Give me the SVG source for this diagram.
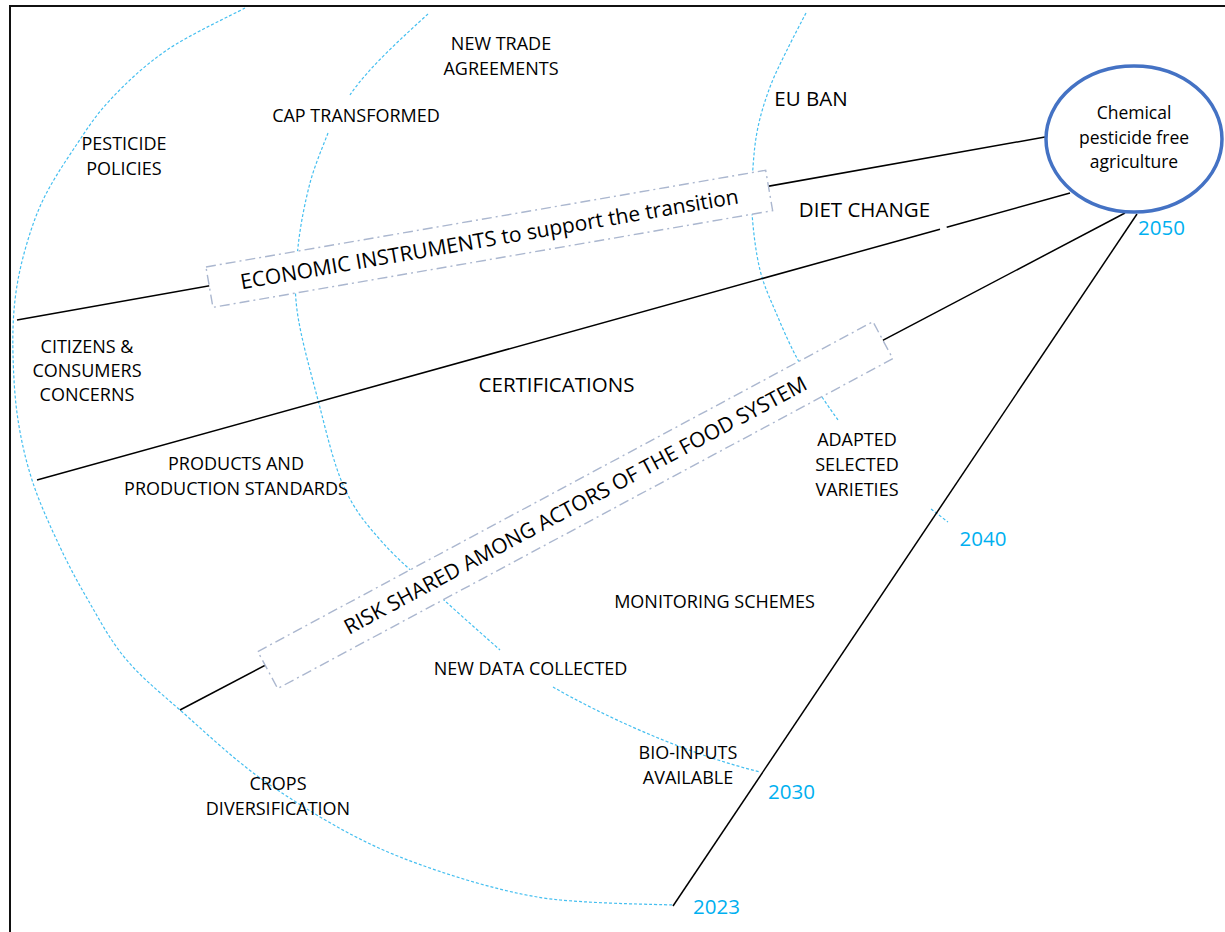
<svg xmlns="http://www.w3.org/2000/svg" width="1225" height="932" viewBox="0 0 1225 932">
<style>
.arc{fill:none;stroke:#45BFF0;stroke-width:1.2;stroke-dasharray:3 2}
.conn{fill:none;stroke:#000;stroke-width:1.5}
.box{fill:#fff;stroke:#ABB7CF;stroke-width:1.4;stroke-dasharray:10 4 2 4}
.lbl{font-family:'Open Sans','Liberation Sans',sans-serif;font-size:18px;fill:#000;text-anchor:middle}
.big{font-size:20.5px}
.boxt{font-size:21px}
.yr{font-family:'Open Sans','Liberation Sans',sans-serif;font-size:20.5px;fill:#00B0F0;text-anchor:middle}
</style>
<rect x="10" y="6" width="1240" height="950" fill="#fff" stroke="#111" stroke-width="2"/>
<g id="arcs">
<path class="arc" d="M245,8 C232,15 189.5,34.7 167,50 C144.5,65.3 125.7,83.3 110,100 C94.3,116.7 84.2,133.3 73,150 C61.8,166.7 51,183.3 43,200 C35,216.7 29.7,233.3 25,250 C20.3,266.7 17,282.5 15,300 C13,317.5 12.5,335 13,355 C13.5,375 14.7,398.7 18,420 C21.3,441.3 26,461.8 33,483 C40,504.2 50.8,527.5 60,547 C69.2,566.5 77.2,581.5 88,600 C98.8,618.5 109.7,639.7 125,658 C140.3,676.3 155.3,688.5 180,710 C204.7,731.5 236.3,762.5 273,787 C309.7,811.5 352.2,838.2 400,857 C447.8,875.8 514.5,896 560,900 C605.5,904 654.2,904.2 673,905"/>
<path class="arc" d="M428,14 C405,35 368,68 350,95"/>
<path class="arc" d="M328,133 C325,141.3 315,164 310,183 C305,202 300.2,225.8 298,247 C295.8,268.2 293.7,284.5 297,310 C300.3,335.5 310.2,370.5 318,400 C325.8,429.5 333.2,463.2 344,487 C354.8,510.8 366.3,524.2 383,543 C399.7,561.8 424.5,582.2 444,600 C463.5,617.8 490.7,641.7 500,650"/>
<path class="arc" d="M553,687 C600,714 680,752 760,772"/>
<path class="arc" d="M806,13 C802.8,19.2 793,37.7 787,50 C781,62.3 774.8,74.2 770,87 C765.2,99.8 760.8,113.7 758,127 C755.2,140.3 754,152.7 753,167 C752,181.3 750.8,195.8 752,213 C753.2,230.2 755.8,253 760,270 C764.2,287 770.7,300 777,315 C783.3,330 790.5,346.3 798,360 C805.5,373.7 815.3,387 822,397 C828.7,407 835.3,416.2 838,420"/>
<path class="arc" d="M931,509 L948,522"/>
</g>
<g id="connectors">
<path class="conn" d="M17,320 L1045,137"/>
<path class="conn" d="M37,480 L940,229.2"/>
<path class="conn" d="M946.7,227.3 L1070,193"/>
<path class="conn" d="M180,710 L1125,213"/>
<path class="conn" d="M673,906 L1137,214"/>
</g>
<g id="economic-instruments" transform="translate(489.3,238.8) rotate(-9.8)">
<rect class="box" x="-284" y="-20.5" width="568" height="41"/>
<text class="lbl boxt" x="0" y="7.5">ECONOMIC INSTRUMENTS to support the transition</text>
</g>
<g id="risk-shared" transform="translate(575.3,505.1) rotate(-28.2)">
<rect class="box" x="-349" y="-21" width="698" height="42"/>
<text class="lbl boxt" x="0" y="7.5">RISK SHARED AMONG ACTORS OF THE FOOD SYSTEM</text>
</g>
<g id="goal">
<ellipse cx="1134" cy="139" rx="88" ry="73" fill="#fff" stroke="#4472C4" stroke-width="3.5"/>
<text class="lbl" style="font-size:17.5px" x="1134" y="119">Chemical</text>
<text class="lbl" style="font-size:17.5px" x="1134" y="144">pesticide free</text>
<text class="lbl" style="font-size:17.5px" x="1134" y="168">agriculture</text>
</g>
<g id="new-trade"><text class="lbl" x="501" y="50">NEW TRADE</text><text class="lbl" x="501" y="74.5">AGREEMENTS</text></g>
<g id="cap"><text class="lbl" x="356" y="121.5">CAP TRANSFORMED</text></g>
<g id="pesticide-policies"><text class="lbl" x="124" y="149.5">PESTICIDE</text><text class="lbl" x="124" y="174.5">POLICIES</text></g>
<g id="eu-ban"><text class="lbl big" x="811" y="105.5">EU BAN</text></g>
<g id="diet-change"><text class="lbl big" x="864.5" y="216.5">DIET CHANGE</text></g>
<g id="citizens"><text class="lbl" x="87" y="352.5">CITIZENS &amp;</text><text class="lbl" x="87" y="376.5">CONSUMERS</text><text class="lbl" x="87" y="400.5">CONCERNS</text></g>
<g id="certifications"><text class="lbl big" x="556.5" y="391.5">CERTIFICATIONS</text></g>
<g id="products"><text class="lbl" x="236" y="469.5">PRODUCTS AND</text><text class="lbl" x="236" y="494.5">PRODUCTION STANDARDS</text></g>
<g id="adapted"><text class="lbl" x="857" y="445.5">ADAPTED</text><text class="lbl" x="857" y="470.5">SELECTED</text><text class="lbl" x="857" y="495.5">VARIETIES</text></g>
<g id="monitoring"><text class="lbl" x="714.5" y="607.5">MONITORING SCHEMES</text></g>
<g id="new-data"><text class="lbl" x="530.5" y="674.5">NEW DATA COLLECTED</text></g>
<g id="bio-inputs"><text class="lbl" x="688" y="759">BIO-INPUTS</text><text class="lbl" x="688" y="783.5">AVAILABLE</text></g>
<g id="crops"><text class="lbl" x="278" y="789.5">CROPS</text><text class="lbl" x="278" y="814.5">DIVERSIFICATION</text></g>
<g id="years">
<text class="yr" x="1161.5" y="235">2050</text>
<text class="yr" x="983" y="546">2040</text>
<text class="yr" x="791.5" y="798.5">2030</text>
<text class="yr" x="716.5" y="914">2023</text>
</g>
</svg>
